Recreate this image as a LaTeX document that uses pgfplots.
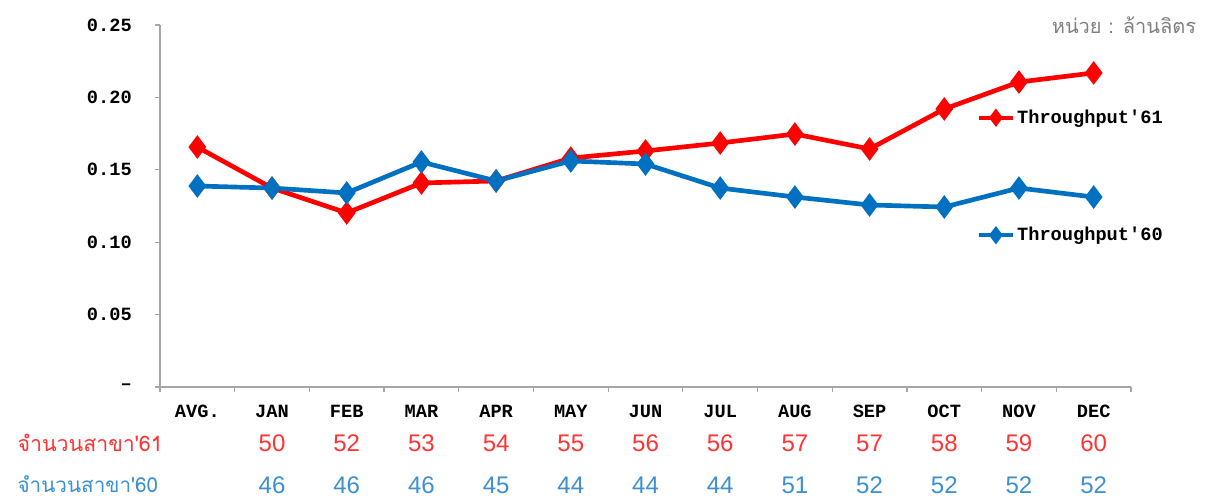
\documentclass[border=0pt]{standalone}
\usepackage{fontspec}
\setmainfont{Liberation Sans}
\newfontfamily\cour{Liberation Mono}
\newfontfamily\thai[Script=Thai]{Loma}
\usepackage{pgfplots}
\pgfplotsset{compat=1.18}
\definecolor{cred}{HTML}{FF0000}
\definecolor{cblue}{HTML}{0070C0}
\definecolor{nblue}{HTML}{3C8FD0}
\definecolor{nred}{HTML}{FF3333}
\definecolor{axgray}{HTML}{A6A6A6}
\definecolor{unitgray}{HTML}{7F7F7F}
\begin{document}
\begin{tikzpicture}
\begin{axis}[name=ax, scale only axis, width=728.25pt, height=271.5pt,
  xmin=-0.5, xmax=12.5, ymin=0, ymax=0.25,
  axis lines=left, axis line style={-, draw=axgray, line width=0.9pt},
  clip=false,
  xtick={0,...,12},
  xticklabels={AVG.,JAN,FEB,MAR,APR,MAY,JUN,JUL,AUG,SEP,OCT,NOV,DEC},
  major x tick style={draw=none},
  minor xtick={-0.5,0.5,1.5,2.5,3.5,4.5,5.5,6.5,7.5,8.5,9.5,10.5,11.5,12.5},
  minor x tick style={draw=axgray, line width=0.9pt},
  ytick={0,0.05,0.1,0.15,0.2,0.25},
  yticklabels={\textendash,0.05,0.10,0.15,0.20,0.25},
  major y tick style={draw=axgray, line width=0.9pt},
  tick align=outside, major tick length=4pt, minor tick length=4pt,
  yticklabel style={font=\cour\bfseries\fontsize{14}{14}\selectfont, anchor=east, inner sep=0pt, xshift=-17pt},
  xticklabel style={font=\cour\bfseries\fontsize{14}{14}\selectfont, anchor=center, inner sep=0pt, yshift=-14pt},
  legend style={draw=none, fill=none, inner sep=0pt, at={(0.8415,0.7735)}, anchor=north west,
    font=\cour\bfseries\fontsize{14}{14}\selectfont, row sep=72.5pt, column sep=0pt},
  legend cell align=left,
  legend image code/.code={
    \draw[line width=2.8pt] (0pt,0pt) -- (25pt,0pt);
    \draw[mark=diamond*, mark size=4pt, mark options={solid}] plot coordinates {(12.5pt,0pt)};
  },
]
\addplot[cred, line width=3.5pt, mark=diamond*, mark size=6pt] coordinates {
(0,0.1657) (1,0.1374) (2,0.1202) (3,0.1409) (4,0.1423) (5,0.1581) (6,0.1630)
(7,0.1685) (8,0.1747) (9,0.1644) (10,0.1920) (11,0.2106) (12,0.2169)};
\addlegendentry{Throughput\textquotesingle61}
\addplot[cblue, line width=3.5pt, mark=diamond*, mark size=6pt] coordinates {
(0,0.1388) (1,0.1374) (2,0.1340) (3,0.1554) (4,0.1423) (5,0.1561) (6,0.1540)
(7,0.1374) (8,0.1312) (9,0.1257) (10,0.1243) (11,0.1374) (12,0.1312)};
\addlegendentry{Throughput\textquotesingle60}

\node[anchor=west, inner sep=0pt, text=nred, font=\thai\fontsize{16}{16}\selectfont] at ([xshift=-107pt,yshift=-42pt]axis cs:-0.5,0) {จำนวนสาขา\textquotesingle61};
\node[anchor=west, inner sep=0pt, text=nblue, font=\thai\fontsize{15.5}{15.5}\selectfont] at ([xshift=-107pt,yshift=-72.5pt]axis cs:-0.5,0) {จำนวนสาขา\textquotesingle60};
\node[anchor=east, inner sep=0pt, text=unitgray, font=\thai\fontsize{15}{15}\selectfont] at ([xshift=49pt]axis cs:12.5,0.25) {หน่วย : ล้านลิตร};

\tikzset{r61/.style={text=nred, font=\fontsize{18}{18}\selectfont, yshift=-42pt},
         r60/.style={text=nblue, font=\fontsize{18}{18}\selectfont, yshift=-74pt}}
\node[r61] at (axis cs:1,0) {50};
\node[r61] at (axis cs:2,0) {52};
\node[r61] at (axis cs:3,0) {53};
\node[r61] at (axis cs:4,0) {54};
\node[r61] at (axis cs:5,0) {55};
\node[r61] at (axis cs:6,0) {56};
\node[r61] at (axis cs:7,0) {56};
\node[r61] at (axis cs:8,0) {57};
\node[r61] at (axis cs:9,0) {57};
\node[r61] at (axis cs:10,0) {58};
\node[r61] at (axis cs:11,0) {59};
\node[r61] at (axis cs:12,0) {60};
\node[r60] at (axis cs:1,0) {46};
\node[r60] at (axis cs:2,0) {46};
\node[r60] at (axis cs:3,0) {46};
\node[r60] at (axis cs:4,0) {45};
\node[r60] at (axis cs:5,0) {44};
\node[r60] at (axis cs:6,0) {44};
\node[r60] at (axis cs:7,0) {44};
\node[r60] at (axis cs:8,0) {51};
\node[r60] at (axis cs:9,0) {52};
\node[r60] at (axis cs:10,0) {52};
\node[r60] at (axis cs:11,0) {52};
\node[r60] at (axis cs:12,0) {52};
\end{axis}
\pgfresetboundingbox
\useasboundingbox ([xshift=-120pt,yshift=-84pt]ax.south west) rectangle ++(906.75pt,374.25pt);
\end{tikzpicture}
\end{document}
